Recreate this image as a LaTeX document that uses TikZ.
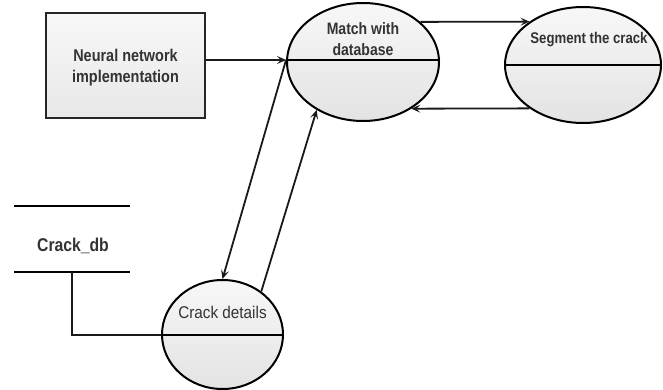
\documentclass[tikz,border=0pt]{standalone}
\usepackage{fontspec}
\setmainfont{Liberation Sans}
\newfontfamily\cnfont[FakeStretch=0.85]{Liberation Sans}
\newfontfamily\rgfont[FakeStretch=0.9]{Liberation Sans}
\usetikzlibrary{shapes.geometric,arrows.meta}
\begin{document}
\begin{tikzpicture}[x=1pt,y=-1pt,
  txt/.style={text=black!80,align=center,inner sep=0pt},
  boxnode/.style={draw=black!85,line width=2.4pt,minimum width=159pt,minimum height=105pt,
    top color=white!97!black,bottom color=black!9,inner sep=0pt},
  proc/.style={ellipse,draw=black,line width=2pt,top color=black!3,bottom color=black!11,inner sep=0pt},
  flow/.style={line width=1.8pt,black!90,-{Stealth[length=9pt,width=8pt,inset=4pt]}},
  plain/.style={line width=1.8pt,black!90}]
\useasboundingbox (0,0) rectangle (663,390);
\fill[white] (0,0) rectangle (663,390);
% nodes
\node[boxnode] (nn) at (125.5,65.5) {};
\node[txt,font=\cnfont\bfseries\fontsize{17}{21}\selectfont] (nnt) at (125.5,68) {Neural network\\implementation};
\node[proc,minimum width=152pt,minimum height=118pt] (m) at (363,62) {};
\node[proc,minimum width=156pt,minimum height=116pt] (s) at (583,65) {};
\node[proc,minimum width=121pt,minimum height=109pt] (c) at (222.5,334.5) {};
\draw[line width=2pt] ([yshift=2pt]m.west) -- ([yshift=2pt]m.east);
\draw[line width=2pt] (s.west) -- (s.east);
\draw[line width=2pt] (c.west) -- (c.east);
\node[txt,font=\cnfont\bfseries\fontsize{16.5}{21}\selectfont] (mt) at (363,39) {Match with\\database};
\node[txt,font=\cnfont\bfseries\fontsize{15.5}{19}\selectfont] (st) at (589,40) {Segment the crack};
\node[txt,font=\rgfont\fontsize{17}{20}\selectfont] (ct) at (222.5,312) {Crack details};
% data store
\coordinate (dbtl) at (14,206);
\coordinate (dbtr) at (130,206);
\coordinate (dbbl) at (14,272);
\coordinate (dbbr) at (130,272);
\coordinate (dbb) at (72,272);
\draw[line width=2pt] (dbtl) -- (dbtr);
\draw[line width=2pt] (dbbl) -- (dbbr);
\node[txt,font=\cnfont\bfseries\fontsize{18.5}{22}\selectfont] (db) at (73,246) {Crack\_db};
\draw[plain,line width=2pt] (dbb) |- (c.west);
% connectors
\coordinate (min) at ([yshift=2pt]m.west);
\draw[flow] (nn.east |- min) -- (min);
\draw[flow] (m.35) -- (s.141);
\draw[flow] (s.219) -- (m.-44);
\draw[flow] (min) -- (c.north);
\draw[flow] (c.48) -- (m.226);
\end{tikzpicture}
\end{document}
